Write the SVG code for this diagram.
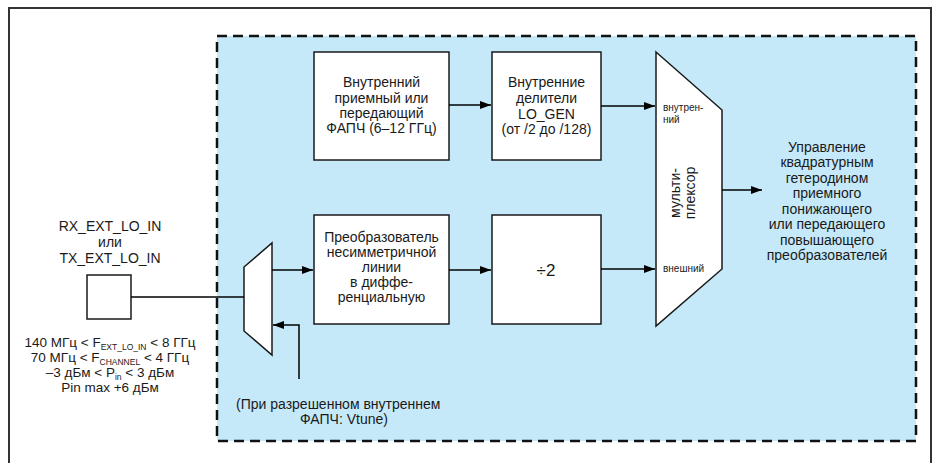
<svg xmlns="http://www.w3.org/2000/svg" width="936" height="463" viewBox="0 0 936 463">
<defs>
<marker id="ah" markerUnits="userSpaceOnUse" markerWidth="12" markerHeight="8" refX="11" refY="4" orient="auto">
<path d="M0,0 L11,4 L0,8 z" fill="#000"/>
</marker>
<style>
text{font-family:"Liberation Sans",Arial,sans-serif;font-size:14px;fill:#1a1a1a}
.c{text-anchor:middle}
.box{fill:#fff;stroke:#1a1a1a;stroke-width:1.5}
.ln{fill:none;stroke:#000;stroke-width:1.5}
.sm{font-size:10px}
.bl{font-size:13.5px}
.sub{font-size:8.5px}
</style>
</defs>
<rect width="936" height="463" fill="#fff"/>
<rect x="9" y="8" width="922" height="470" fill="none" stroke="#333" stroke-width="2"/>
<rect id="chip" x="217" y="36" width="699" height="405" fill="#C6E9F9" stroke="#111" stroke-width="2.5" stroke-dasharray="10,6"/>

<g id="pll">
<rect class="box" x="314" y="52" width="135" height="108"/>
<text class="c" x="381.5" y="87">Внутренний</text>
<text class="c" x="381.5" y="103">приемный или</text>
<text class="c" x="381.5" y="118">передающий</text>
<text class="c" x="381.5" y="133">ФАПЧ (6–12 ГГц)</text>
</g>

<g id="div">
<rect class="box" x="492" y="52" width="109" height="108"/>
<text class="c" x="546.5" y="87">Внутренние</text>
<text class="c" x="546.5" y="103">делители</text>
<text class="c" x="546.5" y="119">LO_GEN</text>
<text class="c" x="546.5" y="134">(от /2 до /128)</text>
</g>

<g id="conv">
<rect class="box" x="314" y="215" width="135" height="109"/>
<text class="c" x="381.5" y="242">Преобразователь</text>
<text class="c" x="381.5" y="257">несимметричной</text>
<text class="c" x="381.5" y="272">линии</text>
<text class="c" x="381.5" y="287">в диффе-</text>
<text class="c" x="381.5" y="302">ренциальную</text>
</g>

<g id="div2">
<rect class="box" x="492" y="215" width="109" height="109"/>
<text class="c" x="546" y="276" style="font-size:17px">÷2</text>
</g>

<g id="mux">
<polygon class="box" points="656,52 722,110 722,269 656,326"/>
<text class="sm" x="663" y="111">внутрен-</text>
<text class="sm" x="663" y="123">ний</text>
<text class="sm" x="663" y="272">внешний</text>
<text class="c" transform="translate(680,193) rotate(-90)">мульти-</text>
<text class="c" transform="translate(695,193) rotate(-90)">плексор</text>
</g>

<g id="inmux">
<polygon class="box" points="244,267 272,243 272,355 244,331"/>
</g>

<g id="inport">
<rect class="box" x="87" y="275" width="44" height="44"/>
<text class="c" x="110" y="231">RX_EXT_LO_IN</text>
<text class="c" x="110" y="247">или</text>
<text class="c" x="110" y="263">TX_EXT_LO_IN</text>
<text class="c bl" x="110" y="347">140 МГц &lt; F<tspan class="sub" dy="2.5">EXT_LO_IN</tspan><tspan dy="-2.5"> &lt; 8 ГГц</tspan></text>
<text class="c bl" x="110" y="362">70 МГц &lt; F<tspan class="sub" dy="2.5">CHANNEL</tspan><tspan dy="-2.5"> &lt; 4 ГГц</tspan></text>
<text class="c bl" x="110" y="377">–3 дБм &lt; P<tspan class="sub" dy="2.5">in</tspan><tspan dy="-2.5"> &lt; 3 дБм</tspan></text>
<text class="c bl" x="110" y="392">Pin max +6 дБм</text>
</g>

<g id="output">
<text class="c" x="827" y="152">Управление</text>
<text class="c" x="827" y="167">квадратурным</text>
<text class="c" x="827" y="183">гетеродином</text>
<text class="c" x="827" y="198">приемного</text>
<text class="c" x="827" y="214">понижающего</text>
<text class="c" x="827" y="229">или передающего</text>
<text class="c" x="827" y="245">повышающего</text>
<text class="c" x="827" y="260">преобразователей</text>
</g>

<g id="note">
<text x="236" y="409">(При разрешенном внутреннем</text>
<text x="300" y="424">ФАПЧ: Vtune)</text>
</g>

<g id="connectors">
<path class="ln" d="M449,105 H491" marker-end="url(#ah)"/>
<path class="ln" d="M601,106 H655" marker-end="url(#ah)"/>
<path class="ln" d="M449,270 H491" marker-end="url(#ah)"/>
<path class="ln" d="M601,269 H655" marker-end="url(#ah)"/>
<path class="ln" d="M272,270 H313" marker-end="url(#ah)"/>
<path class="ln" d="M722,190 H762" marker-end="url(#ah)"/>
<path class="ln" d="M131,297 H244"/>
<path class="ln" d="M299,379 V325 H273" marker-end="url(#ah)"/>
</g>
</svg>
